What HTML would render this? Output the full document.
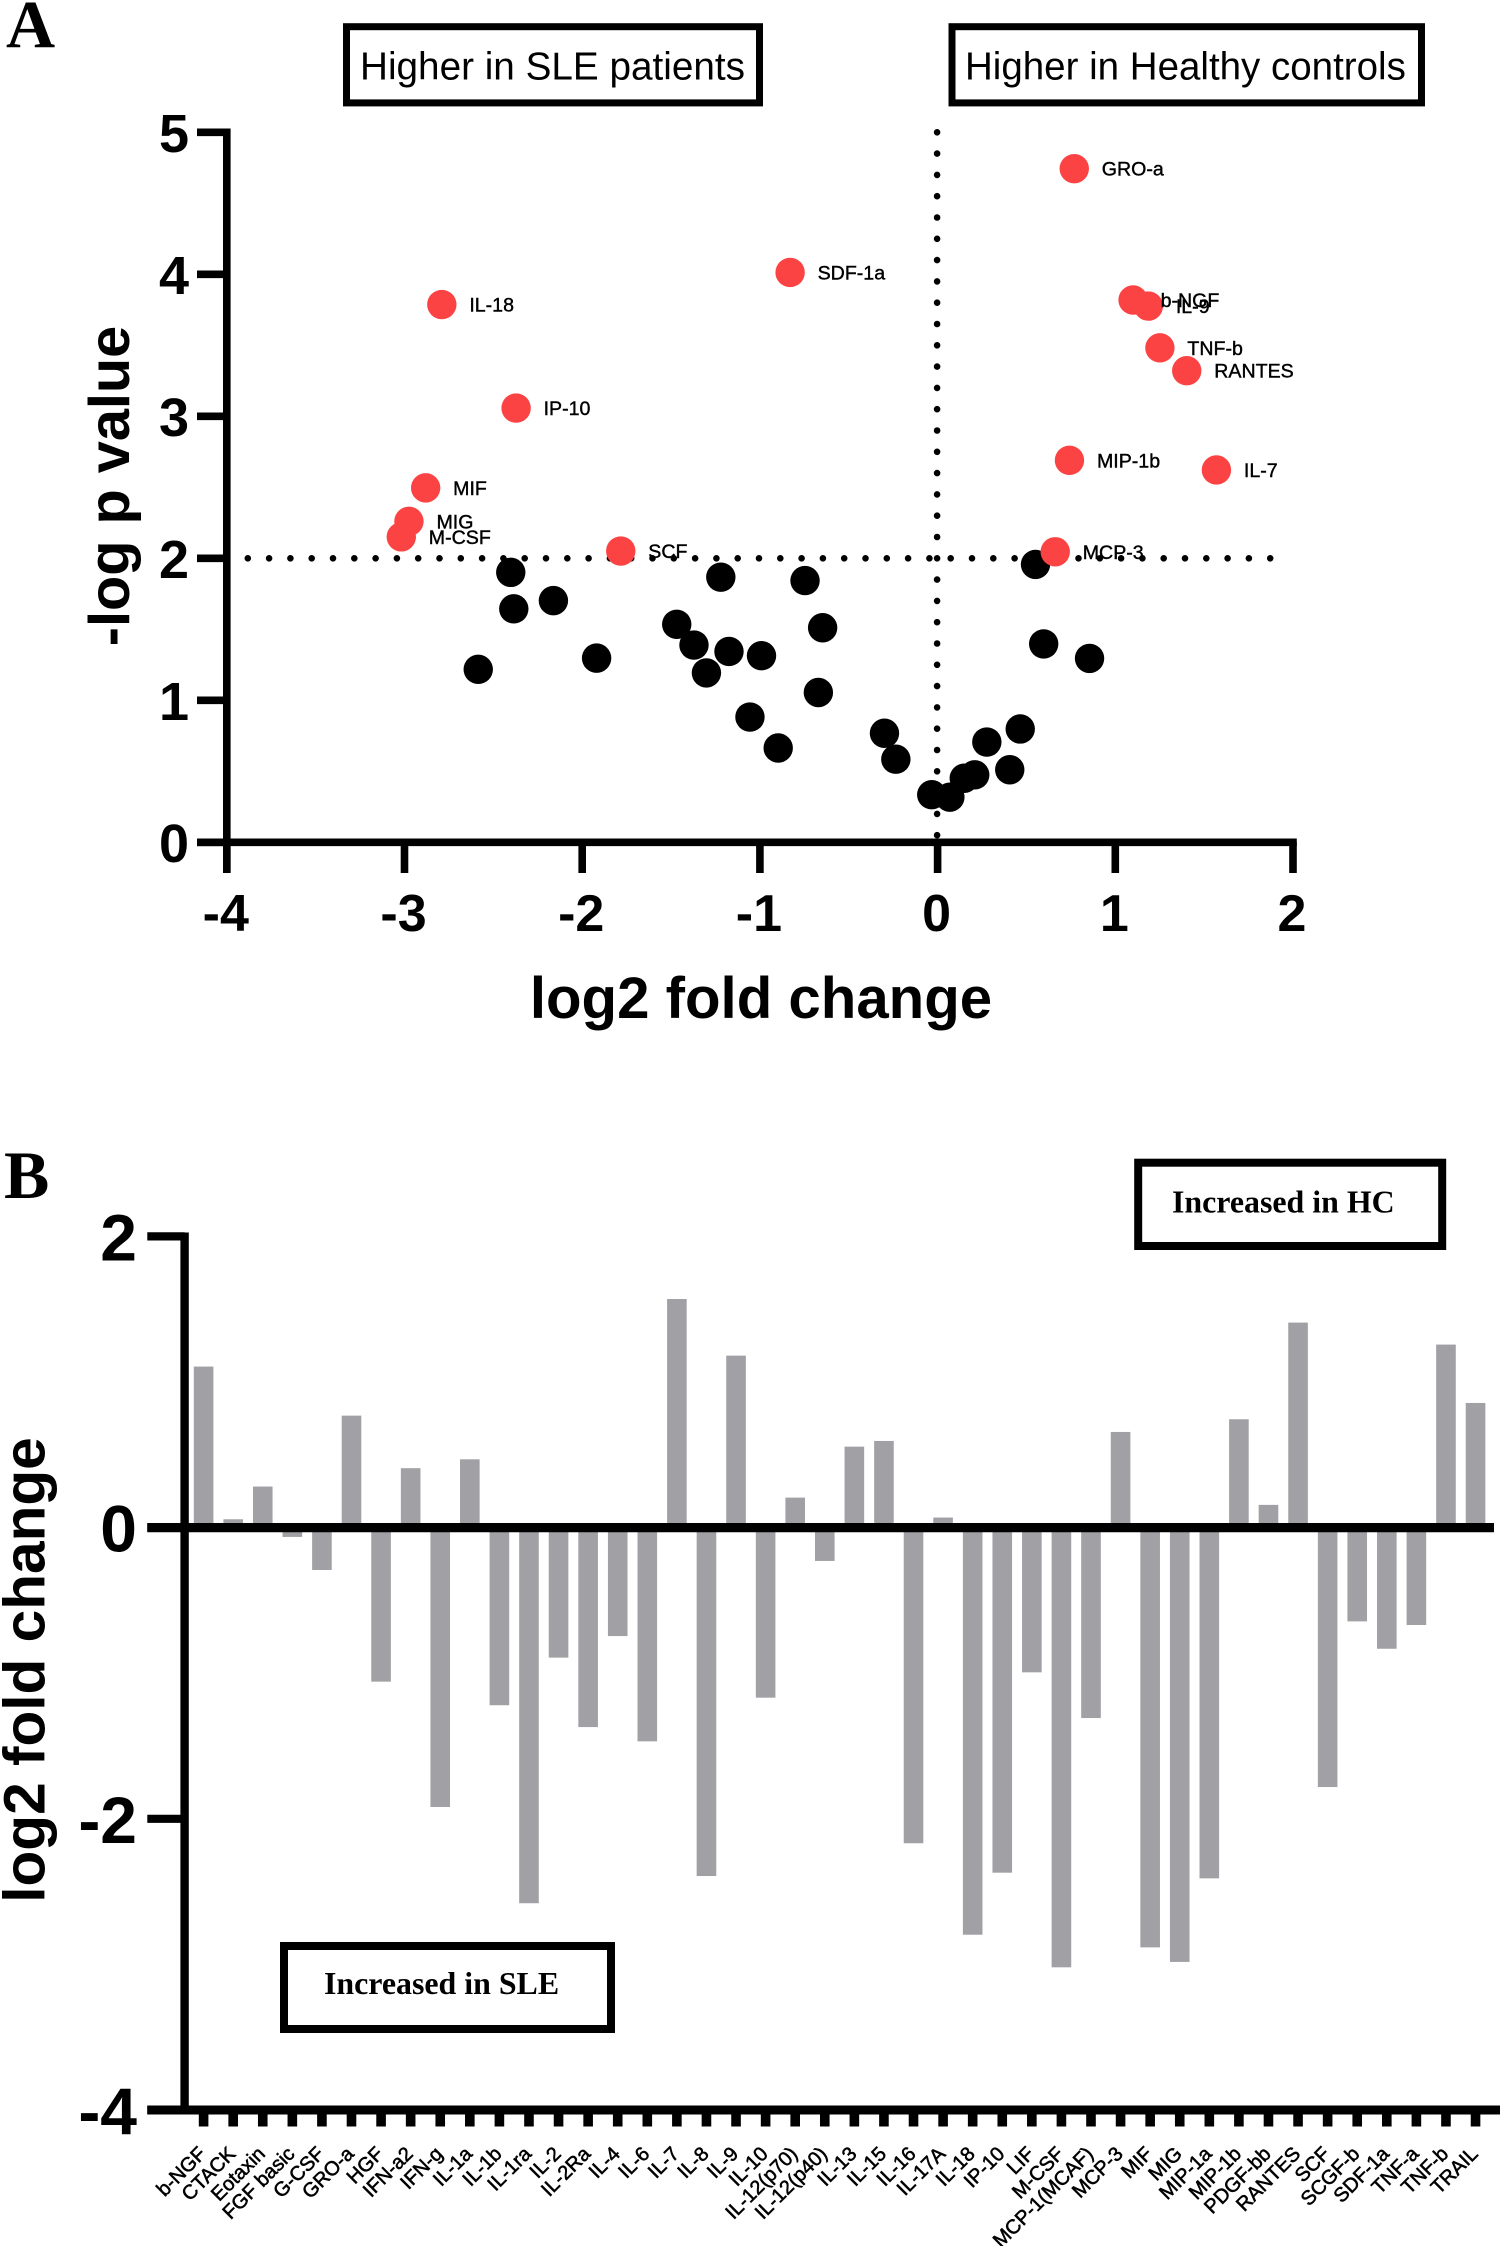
<!DOCTYPE html>
<html lang="en">
<head>
<meta charset="utf-8">
<title>Volcano plot and log2 fold change bar chart</title>
<style>
html,body{margin:0;padding:0;background:#fff;}
svg{display:block;}
.sans{font-family:"Liberation Sans",Arial,sans-serif;}
.serif{font-family:"Liberation Serif","Times New Roman",serif;}
</style>
</head>
<body>
<svg id="figure" xmlns="http://www.w3.org/2000/svg" width="1500" height="2246" viewBox="0 0 1500 2246">
  <rect x="0" y="0" width="1500" height="2246" fill="#fff"/>

  <text class="serif" x="6" y="47.5" font-size="68" font-weight="700">A</text>
  <rect x="346.5" y="26.7" width="413" height="76.2" fill="#fff" stroke="#000" stroke-width="7"/>
  <text class="sans" x="360" y="79.3" font-size="38.7">Higher in SLE patients</text>
  <rect x="952" y="26.7" width="469.5" height="76.2" fill="#fff" stroke="#000" stroke-width="7"/>
  <text class="sans" x="965" y="79.3" font-size="38.5">Higher in Healthy controls</text>
  <g id="panel-a"></g>
  <text class="sans" x="761" y="1018" font-size="58.2" font-weight="700" text-anchor="middle">log2 fold change</text>
  <text class="sans" transform="translate(129 486) rotate(-90)" font-size="57.7" font-weight="700" text-anchor="middle">-log p value</text>

  <text class="serif" x="4" y="1198" font-size="68" font-weight="700">B</text>
  <g id="panel-b"></g>
  <rect x="1138.2" y="1162.7" width="304" height="83.3" fill="#fff" stroke="#000" stroke-width="8"/>
  <text class="serif" x="1172" y="1212.7" font-size="31.9" font-weight="700">Increased in HC</text>
  <rect x="284" y="1946" width="327" height="83" fill="#fff" stroke="#000" stroke-width="8"/>
  <text class="serif" x="324" y="1994" font-size="31.9" font-weight="700">Increased in SLE</text>
  <text class="sans" transform="translate(44.5 1670) rotate(-90)" font-size="58.6" font-weight="700" text-anchor="middle">log2 fold change</text>
</svg>

<script>
// Panel A data
const volcanoXTicks = [-4, -3, -2, -1, 0, 1, 2];
const volcanoYTicks = [0, 1, 2, 3, 4, 5];
const significantLabels = ['IL-18', 'IP-10', 'MIF', 'MIG', 'M-CSF', 'SCF', 'SDF-1a', 'GRO-a', 'b-NGF', 'IL-9', 'TNF-b', 'RANTES', 'MIP-1b', 'IL-7', 'MCP-3'];
const significantFold = [-2.79, -2.372, -2.881, -2.975, -3.018, -1.783, -0.83, 0.769, 1.1, 1.186, 1.251, 1.402, 0.742, 1.569, 0.662];
const significantLogP = [3.787, 3.058, 2.496, 2.26, 2.151, 2.051, 4.013, 4.744, 3.819, 3.776, 3.482, 3.321, 2.69, 2.622, 2.046];
const otherFold = [-2.402, -2.385, -2.162, -2.585, -1.919, -1.22, -1.468, -1.371, -1.301, -1.174, -0.746, -0.647, -0.991, -0.671, -1.056, -0.897, -0.299, -0.235, -0.033, 0.069, 0.15, 0.209, 0.277, 0.406, 0.465, 0.551, 0.597, 0.855];
const otherLogP = [1.901, 1.644, 1.702, 1.218, 1.297, 1.867, 1.535, 1.389, 1.193, 1.344, 1.843, 1.511, 1.314, 1.055, 0.882, 0.664, 0.768, 0.585, 0.335, 0.318, 0.451, 0.475, 0.706, 0.511, 0.798, 1.957, 1.397, 1.295];
const pThreshold = 2;
const foldThreshold = 0;

// Panel B data
const barYTicks = [2, 0, -2, -4];
const categories = ['b-NGF', 'CTACK', 'Eotaxin', 'FGF basic', 'G-CSF', 'GRO-a', 'HGF', 'IFN-a2', 'IFN-g', 'IL-1a', 'IL-1b', 'IL-1ra', 'IL-2', 'IL-2Ra', 'IL-4', 'IL-6', 'IL-7', 'IL-8', 'IL-9', 'IL-10', 'IL-12(p70)', 'IL-12(p40)', 'IL-13', 'IL-15', 'IL-16', 'IL-17A', 'IL-18', 'IP-10', 'LIF', 'M-CSF', 'MCP-1(MCAF)', 'MCP-3', 'MIF', 'MIG', 'MIP-1a', 'MIP-1b', 'PDGF-bb', 'RANTES', 'SCF', 'SCGF-b', 'SDF-1a', 'TNF-a', 'TNF-b', 'TRAIL'];
const foldChanges = [1.106, 0.057, 0.282, -0.064, -0.291, 0.769, -1.058, 0.408, -1.919, 0.469, -1.22, -2.58, -0.893, -1.37, -0.745, -1.468, 1.57, -2.393, 1.181, -1.168, 0.206, -0.229, 0.556, 0.595, -2.168, 0.069, -2.796, -2.37, -0.994, -3.02, -1.308, 0.657, -2.883, -2.983, -2.409, 0.744, 0.156, 1.408, -1.782, -0.644, -0.832, -0.669, 1.257, 0.856];

const NS = 'http://www.w3.org/2000/svg';
function make(parent, tag, attrs, content) {
  const node = document.createElementNS(NS, tag);
  for (const key in attrs) node.setAttribute(key, attrs[key]);
  if (content !== undefined) node.textContent = content;
  parent.appendChild(node);
  return node;
}

// Panel A axes
const xA = v => 937.6 + 177.7 * v;
const yA = v => 842.3 - 142 * v;
const gA = document.getElementById('panel-a');
let el;

el = make(gA, 'line', {x1: xA(-4) - 7, y1: yA(pThreshold), x2: 1272, y2: yA(pThreshold), stroke: '#000', 'stroke-width': 6.6, 'stroke-linecap': 'round', 'stroke-dasharray': '0 21.3', 'stroke-dashoffset': -28});


el = make(gA, 'line', {x1: xA(foldThreshold) - 0.5, y1: yA(5), x2: xA(foldThreshold) - 0.5, y2: yA(0), stroke: '#000', 'stroke-width': 6.6, 'stroke-linecap': 'round', 'stroke-dasharray': '0 21.3'});



otherFold.forEach((v, i) => {
  const c = make(gA, 'circle', {cx: xA(v), cy: yA(otherLogP[i]), r: 14.7, fill: '#000'});
  
  
});
significantFold.forEach((v, i) => {
  const c = make(gA, 'circle', {cx: xA(v), cy: yA(significantLogP[i]), r: 14.7, fill: '#fb4343'});
  
  
});
significantFold.forEach((v, i) => {
  const t = make(gA, 'text', {x: xA(v) + 27.5, y: yA(significantLogP[i]) + 7, 'font-size': 19.6, 'class': 'sans', fill: '#000', stroke: '#000', 'stroke-width': 0.4}, significantLabels[i]);
  
  
});

el = make(gA, 'line', {x1: xA(-4), y1: yA(5) - 3.8, x2: xA(-4), y2: 873, stroke: '#000', 'stroke-width': 7.6});


el = make(gA, 'line', {x1: 197, y1: yA(0), x2: xA(2) + 3.8, y2: yA(0), stroke: '#000', 'stroke-width': 7.6});



volcanoYTicks.forEach(v => {
  const tick = make(gA, 'line', {x1: 197, y1: yA(v), x2: xA(-4), y2: yA(v), stroke: '#000', 'stroke-width': 7.6});
  
  
  const label = make(gA, 'text', {x: 189, y: yA(v) + 19.5, 'font-size': 54, 'font-weight': 700, 'text-anchor': 'end', 'class': 'sans'}, String(v));
  
  
});
volcanoXTicks.forEach(v => {
  const tick = make(gA, 'line', {x1: xA(v), y1: yA(0), x2: xA(v), y2: 873, stroke: '#000', 'stroke-width': 7.6});
  
  
  const label = make(gA, 'text', {x: xA(v) - 1, y: 931, 'font-size': 52, 'font-weight': 700, 'text-anchor': 'middle', 'class': 'sans'}, String(v));
  
  
});

// Panel B axes
const xB = i => 203.6 + 29.58 * i;
const yB = v => 1527.6 - 145.6 * v;
const gB = document.getElementById('panel-b');

foldChanges.forEach((v, i) => {
  const top = Math.min(yB(v), yB(0));
  const bar = make(gB, 'rect', {x: xB(i) - 9.8, y: top, width: 19.6, height: Math.abs(yB(v) - yB(0)), fill: '#a0a0a5'});
  
  
});

el = make(gB, 'line', {x1: 184.6, y1: yB(2) - 3.9, x2: 184.6, y2: yB(-4), stroke: '#000', 'stroke-width': 8.4});


el = make(gB, 'line', {x1: 147.3, y1: yB(0), x2: 1494, y2: yB(0), stroke: '#000', 'stroke-width': 9.2});


el = make(gB, 'line', {x1: 147.3, y1: yB(-4), x2: 1500, y2: yB(-4), stroke: '#000', 'stroke-width': 9});



barYTicks.forEach(v => {
  const tick = make(gB, 'line', {x1: 147.3, y1: yB(v), x2: 184.6, y2: yB(v), stroke: '#000', 'stroke-width': 8.2});
  
  
  const label = make(gB, 'text', {x: 137, y: yB(v) + 24, 'font-size': 66, 'font-weight': 700, 'text-anchor': 'end', 'class': 'sans'}, String(v));
  
  
});
categories.forEach((name, i) => {
  const tick = make(gB, 'rect', {x: xB(i) - 4.8, y: yB(-4), width: 9.6, height: 16.5, fill: '#000'});
  
  
  const label = make(gB, 'text', {transform: 'translate(' + (xB(i) + 3.5) + ' 2155) rotate(-45)', 'font-size': 20, 'text-anchor': 'end', 'class': 'sans', stroke: '#000', 'stroke-width': 0.55}, name);
  
  
});
</script>
</body>
</html>
